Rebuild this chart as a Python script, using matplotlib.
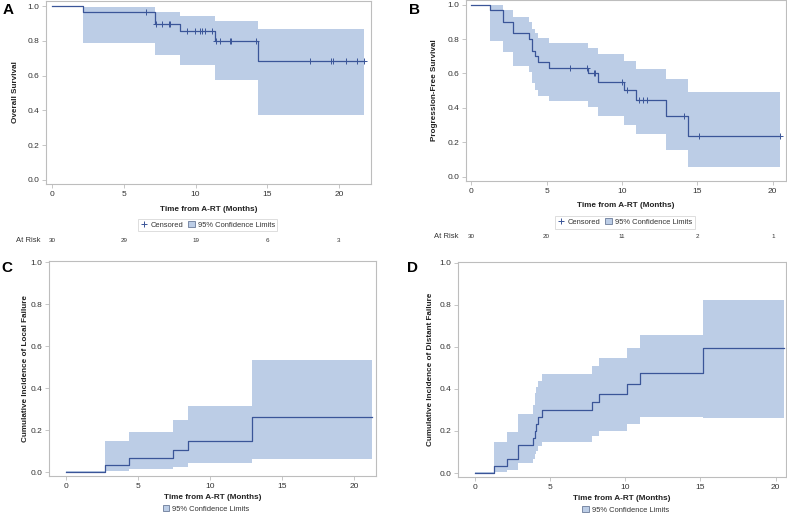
import numpy as np
import matplotlib
matplotlib.use("Agg")
import matplotlib.pyplot as plt
from matplotlib.lines import Line2D
from matplotlib.patches import Patch
from matplotlib.transforms import blended_transform_factory

plt.rcParams['font.family'] = ['Liberation Sans', 'DejaVu Sans']

# ---- A: overall survival ----
os_t = [0, 2.16, 7.18, 8.92, 11.36, 14.38, 21.77]
os_s = [1.0, 0.967, 0.897, 0.855, 0.798, 0.683, 0.683]
os_lo = [np.nan, 0.79, 0.716, 0.663, 0.575, 0.372, 0.372]
os_hi = [np.nan, 0.996, 0.964, 0.943, 0.912, 0.866, 0.866]
os_cens = [6.57, 7.27, 7.67, 8.15, 8.25, 9.43, 9.94, 10.31, 10.43, 10.69, 11.15,
           11.4, 11.68, 12.38, 12.5, 14.2, 18.0, 19.44, 19.6, 20.5, 21.25, 21.77]
os_risk = ["30", "29", "19", "6", "3"]

# ---- B: progression-free survival ----
pfs_t = [0, 1.24, 2.12, 2.75, 3.85, 4.0, 4.23, 4.45, 5.16, 7.77, 8.43, 10.11, 10.93, 12.92, 14.36, 20.48]
pfs_s = [1.0, 0.967, 0.90, 0.833, 0.80, 0.733, 0.70, 0.667, 0.633, 0.60, 0.55, 0.504, 0.446, 0.355, 0.237, 0.237]
pfs_lo = [np.nan, 0.789, 0.723, 0.645, 0.61, 0.545, 0.505, 0.471, 0.442, 0.403, 0.351, 0.30, 0.248, 0.153, 0.058, 0.058]
pfs_hi = [np.nan, 1.0, 0.97, 0.927, 0.90, 0.857, 0.834, 0.805, 0.779, 0.746, 0.711, 0.673, 0.626, 0.568, 0.49, 0.49]
pfs_cens = [6.55, 7.66, 8.14, 8.2, 9.98, 10.31, 11.15, 11.37, 11.64, 14.13, 15.13, 20.48]
pfs_risk = ["30", "20", "11", "2", "1"]

# ---- C: cumulative incidence of local failure ----
lf_t = [0, 2.73, 4.41, 7.46, 8.5, 12.93, 21.27]
lf_c = [0, 0.035, 0.067, 0.106, 0.149, 0.262, 0.262]
lf_lo = [0, 0.005, 0.013, 0.024, 0.044, 0.063, 0.063]
lf_hi = [0.006, 0.146, 0.19, 0.25, 0.313, 0.532, 0.532]

# ---- D: cumulative incidence of distant failure ----
df_t = [0, 1.29, 2.15, 2.88, 3.88, 3.99, 4.05, 4.17, 4.48, 7.78, 8.23, 10.1, 10.95, 15.19, 20.55]
df_c = [0, 0.033, 0.067, 0.133, 0.167, 0.20, 0.233, 0.267, 0.30, 0.338, 0.374, 0.421, 0.474, 0.596, 0.596]
df_lo = [0, 0.004, 0.014, 0.046, 0.066, 0.09, 0.106, 0.126, 0.148, 0.174, 0.202, 0.233, 0.265, 0.26, 0.26]
df_hi = [0.006, 0.146, 0.193, 0.28, 0.324, 0.38, 0.41, 0.435, 0.471, 0.508, 0.547, 0.595, 0.655, 0.822, 0.822]

xticks = [0, 5, 10, 15, 20]
yticks = [0.0, 0.2, 0.4, 0.6, 0.8, 1.0]

LINE = '#3a5598'
BAND = '#bccde6'
FRAME = '#bdbdbd'
TXT = '#333333'

fig = plt.figure(figsize=(7.87, 5.13), dpi=100)


def style(ax, xlim, ylim, ylabel, ylx, xly):
    ax.set_xlim(xlim)
    ax.set_ylim(ylim)
    ax.set_xticks(xticks)
    ax.set_yticks(yticks)
    ax.set_yticklabels([f"{v:.1f}" for v in yticks])
    for s in ax.spines.values():
        s.set_color(FRAME)
        s.set_linewidth(0.8)
    ax.tick_params(direction='out', length=3, width=0.6, color=FRAME,
                   labelsize=6, labelcolor=TXT, pad=2)
    ax.set_xlabel("Time from A-RT (Months)", fontsize=5.9, fontweight='bold',
                  color='#222222', va='center')
    ax.set_ylabel(ylabel, fontsize=5.9, fontweight='bold', color='#222222', va='center')
    ax.xaxis.set_label_coords(0.5, xly)
    ax.yaxis.set_label_coords(ylx, 0.5)


def draw(ax, t, y, lo, hi):
    t = np.array(t)
    lo = np.array(lo)
    hi = np.array(hi)
    ok = ~np.isnan(lo)
    ax.fill_between(t[ok], lo[ok], hi[ok], step='post', color=BAND, linewidth=0)
    ax.step(t, y, where='post', color=LINE, linewidth=0.9)


def censor(ax, t, y, c):
    yc = np.array(y)[np.searchsorted(t, c, side='right') - 1]
    ax.plot(c, yc, linestyle='none', marker='+', markersize=4.5,
            markeredgewidth=0.7, color=LINE)


def at_risk(ax, vals, yfrac, label_x):
    tr = blended_transform_factory(ax.transData, ax.transAxes)
    for x, v in zip(xticks, vals):
        ax.text(x, yfrac, v, transform=tr, ha='center', va='center', fontsize=4.5, color=TXT)
    fig.text(label_x, yfrac, "At Risk", fontsize=5.5, color=TXT, ha='right', va='center',
             transform=blended_transform_factory(fig.transFigure, ax.transAxes))


def legend(ax, x, y, with_censor):
    h = []
    if with_censor:
        h.append(Line2D([], [], linestyle='none', marker='+', markersize=4.5,
                        markeredgewidth=0.7, color=LINE, label='Censored'))
    h.append(Patch(facecolor=BAND, edgecolor='#6b7b99', linewidth=0.6, label='95% Confidence Limits'))
    leg = ax.legend(handles=h, loc='center', bbox_to_anchor=(x, y), ncol=len(h),
                    fontsize=5.4, frameon=with_censor, fancybox=False, handlelength=0.9,
                    handleheight=0.9, handletextpad=0.4, columnspacing=0.6,
                    borderpad=0.35, labelcolor=TXT)
    leg.get_frame().set_edgecolor('#cfcfcf')
    leg.get_frame().set_linewidth(0.6)


# A
axA = fig.add_axes([46 / 787, 1 - 184 / 513, 325 / 787, 183 / 513])
draw(axA, os_t, os_s, os_lo, os_hi)
censor(axA, os_t, os_s, os_cens)
style(axA, (-0.42, 22.23), (-0.023, 1.029), "Overall Survival", -0.095, -0.137)
legend(axA, 0.498, -0.224, True)
at_risk(axA, os_risk, -0.311, 40 / 787)

# B
axB = fig.add_axes([466 / 787, 1 - 181 / 513, 320 / 787, 181 / 513])
draw(axB, pfs_t, pfs_s, pfs_lo, pfs_hi)
censor(axB, pfs_t, pfs_s, pfs_cens)
style(axB, (-0.35, 20.88), (-0.025, 1.027), "Progression-Free Survival", -0.097, -0.138)
legend(axB, 0.497, -0.227, True)
at_risk(axB, pfs_risk, -0.309, 458 / 787)

# C
axC = fig.add_axes([49 / 787, 1 - 476 / 513, 327 / 787, 215 / 513])
draw(axC, lf_t, lf_c, lf_lo, lf_hi)
style(axC, (-1.18, 21.53), (-0.019, 1.005), "Cumulative Incidence of Local Failure", -0.073, -0.102)
legend(axC, 0.48, -0.153, False)

# D
axD = fig.add_axes([458 / 787, 1 - 477 / 513, 328 / 787, 215 / 513])
draw(axD, df_t, df_c, df_lo, df_hi)
style(axD, (-1.13, 20.69), (-0.019, 1.003), "Cumulative Incidence of Distant Failure", -0.085, -0.098)
legend(axD, 0.51, -0.153, False)

# panel letters
for lab, x, y in [("A", 8, 10), ("B", 414, 10), ("C", 7, 268), ("D", 413, 268)]:
    fig.text(x / 787, 1 - y / 513, lab, fontsize=11, fontweight='bold',
             ha='center', va='center', color='black')

fig.savefig("out.png", dpi=100)
